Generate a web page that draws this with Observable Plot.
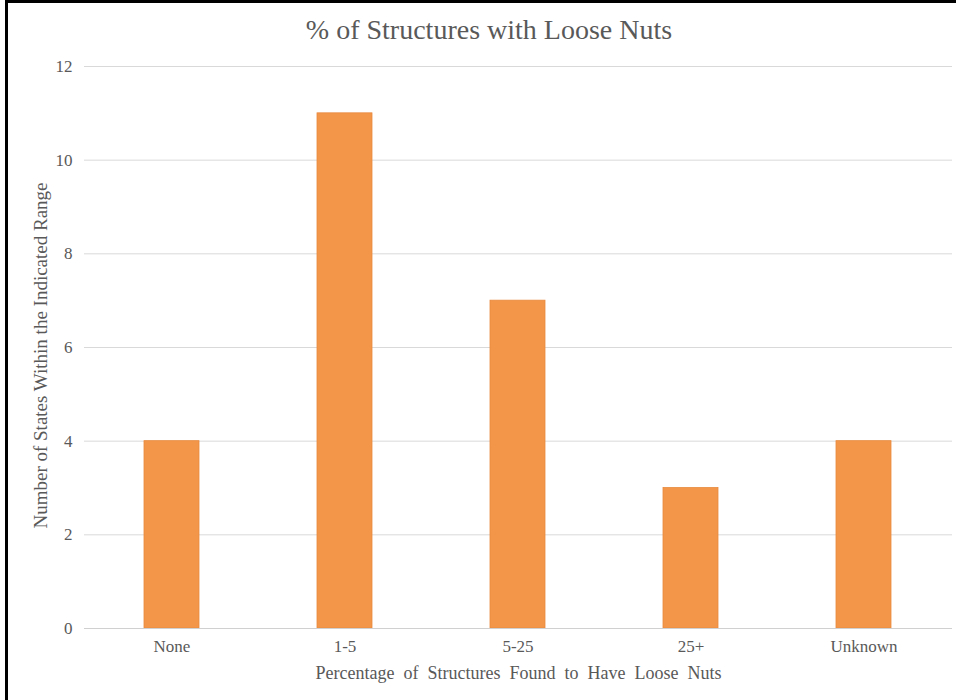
<!DOCTYPE html>
<html>
<head>
<meta charset="utf-8">
<script src="https://cdn.jsdelivr.net/npm/d3@7"></script>
<script src="https://cdn.jsdelivr.net/npm/@observablehq/plot@0.6"></script>
<style>
  html, body { margin: 0; padding: 0; background: #fff; }
  #wrap { position: relative; width: 956px; height: 700px; overflow: hidden; background: #fff; font-family: "Liberation Serif", "Times New Roman", serif; }
  #bl { position: absolute; left: 5px; top: 0; width: 3px; height: 700px; background: #000; }
  #bt { position: absolute; left: 5px; top: 0; width: 951px; height: 3px; background: #000; }
  #title { position: absolute; left: 0; top: 14px; width: 978px; text-align: center; font-size: 28px; color: #595959; }
  #chart { position: absolute; left: 0; top: 55px; }
</style>
</head>
<body>
<div id="wrap">
  <div id="bl"></div>
  <div id="bt"></div>
  <div id="title">% of Structures with Loose Nuts</div>
  <div id="chart"></div>
</div>
<script>
const categories = ["None", "1-5", "5-25", "25+", "Unknown"];
const counts = [4, 11, 7, 3, 4];
const yTicks = [0, 2, 4, 6, 8, 10, 12];
const xTitle = "Percentage of Structures Found to Have Loose Nuts";
const yTitle = "Number of States Within the Indicated Range";

const data = categories.map((c, i) => ({category: c, count: counts[i]}));

const plot = Plot.plot({
  width: 956,
  height: 645,
  marginTop: 11,
  marginBottom: 72,
  marginLeft: 84,
  marginRight: 4,
  style: {fontFamily: "'Liberation Serif', 'Times New Roman', serif", fontSize: "17px", color: "#595959", background: "transparent"},
  x: {domain: categories, paddingInner: 0.68, paddingOuter: 0.34, label: null},
  y: {domain: [0, 12], label: null},
  marks: [
    Plot.gridY(yTicks, {stroke: "#d9d9d9", strokeOpacity: 1}),
    Plot.axisY(yTicks, {tickSize: 0, tickPadding: 12, fontSize: 17, fill: "#595959", label: null}),
    Plot.axisX({tickSize: 0, tickPadding: 11, fontSize: 17, fill: "#595959", label: null}),
    Plot.barY(data, {x: "category", y: "count", fill: "#F4964A", stroke: "#E8893D", strokeWidth: 0.8}),
    Plot.ruleY([0], {stroke: "#d0d0d0"}),
    Plot.text([xTitle], {frameAnchor: "bottom", dy: 50, fontSize: 18, fill: "#595959", text: d => d, className: "xtitle"}),
    Plot.text([yTitle], {frameAnchor: "left", dx: -44, dy: 8, rotate: -90, textAnchor: "middle", fontSize: 19, fill: "#595959", text: d => d})
  ]
});
d3.select(plot).selectAll(".xtitle text").style("word-spacing", "4.5px");
document.getElementById("chart").appendChild(plot);
</script>
</body>
</html>
